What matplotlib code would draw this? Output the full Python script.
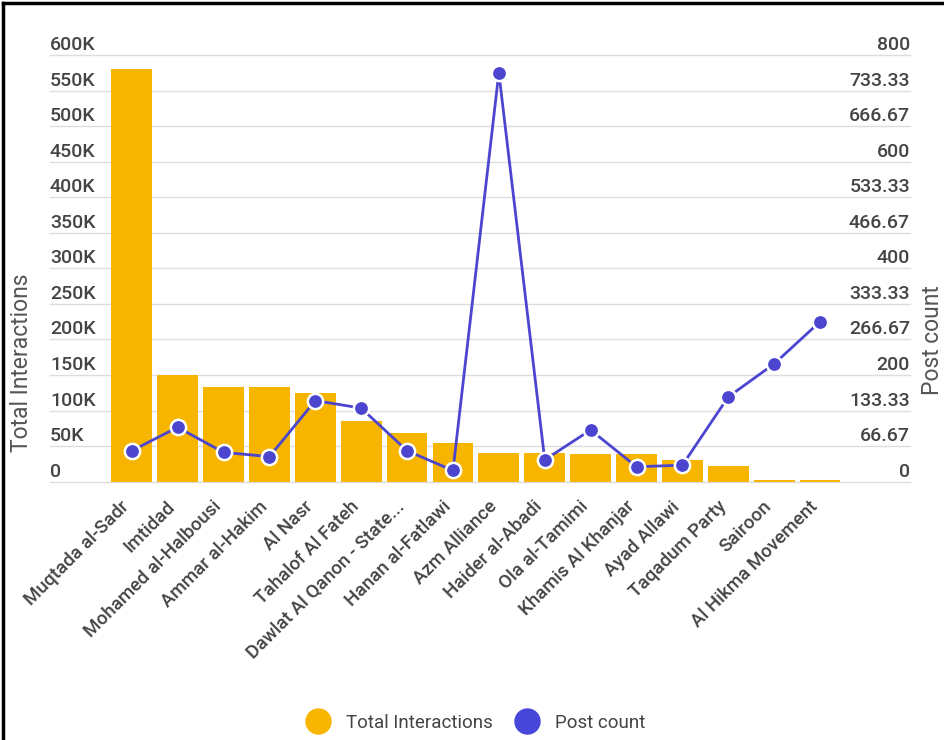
import matplotlib
matplotlib.use("Agg")
import matplotlib.pyplot as plt
import matplotlib.transforms as mtransforms
from matplotlib.lines import Line2D

plt.rcParams['font.family'] = ['Roboto', 'DejaVu Sans']

categories = ["Muqtada al-Sadr", "Imtidad", "Mohamed al-Halbousi", "Ammar al-Hakim",
              "Al Nasr", "Tahalof Al Fateh", "Dawlat Al Qanon - State...",
              "Hanan al-Fatlawi", "Azm Alliance", "Haider al-Abadi", "Ola al-Tamimi",
              "Khamis Al Khanjar", "Ayad Allawi", "Taqadum Party", "Sairoon",
              "Al Hikma Movement"]
interactions = [581000, 150000, 133000, 133000, 125000, 86000, 68000, 54000,
                41000, 41000, 39000, 39000, 31000, 22000, 3000, 2000]
post_count = [58, 102, 55, 47, 152, 138, 58, 21, 767, 41, 97, 28, 31, 159, 221, 300]

left_ticks = [0, 50000, 100000, 150000, 200000, 250000, 300000, 350000, 400000,
              450000, 500000, 550000, 600000]
left_labels = ["0", "50K", "100K", "150K", "200K", "250K", "300K", "350K", "400K",
               "450K", "500K", "550K", "600K"]
right_labels = ["0", "66.67", "133.33", "200", "266.67", "333.33", "400", "466.67",
                "533.33", "600", "666.67", "733.33", "800"]

bar_color = "#F7B500"
line_color = "#4B45CF"
text_color = "#444444"

W, H = 945, 740
fig = plt.figure(figsize=(W / 100, H / 100), dpi=100)

# plot area in pixels
x0, x1 = 108.8, 843.0
y_top, y_bot = 55.0, 481.7
ax = fig.add_axes([x0 / W, 1 - y_bot / H, (x1 - x0) / W, (y_bot - y_top) / H])
ax2 = ax.twinx()

x = list(range(len(categories)))
ax.bar(x, interactions, width=0.89, color=bar_color, zorder=2)
ax.set_xlim(-0.5, len(categories) - 0.5)
ax.set_ylim(0, 600000)
ax2.set_ylim(0, 800)

ax2.plot(x, post_count, color=line_color, lw=2, marker="o", markersize=11,
         markerfacecolor=line_color, markeredgecolor="white", markeredgewidth=1.8,
         zorder=3)

# gridlines extending under the tick labels
gx0 = (50 - x0) / (x1 - x0)
gx1 = (910 - x0) / (x1 - x0)
for v in left_ticks:
    ax.axhline(v, xmin=gx0, xmax=gx1, color="#dddddd", lw=1, clip_on=False, zorder=0)

for a in (ax, ax2):
    for s in a.spines.values():
        s.set_visible(False)
    a.set_yticks([])

ax.set_xticks(x)
ax.set_xticklabels(categories, rotation=45, ha="right", va="center",
                   rotation_mode="anchor", fontsize=13.5, color=text_color,
                   fontweight="medium")
ax.tick_params(axis="x", length=0, pad=16)
shift = mtransforms.ScaledTranslation(-0.05, 0, fig.dpi_scale_trans)
for lab in ax.get_xticklabels():
    lab.set_transform(lab.get_transform() + shift)

# y tick labels sit just above their gridlines
tl = mtransforms.offset_copy(mtransforms.blended_transform_factory(fig.transFigure, ax.transData),
                             fig=fig, x=0, y=10, units="dots")
for v, lab in zip(left_ticks, left_labels):
    ax.text(50 / W, v, lab, transform=tl, ha="left", va="center",
            fontsize=14, color=text_color, fontweight="medium", clip_on=False)
tr = mtransforms.offset_copy(mtransforms.blended_transform_factory(fig.transFigure, ax2.transData),
                             fig=fig, x=0, y=10, units="dots")
for i, lab in enumerate(right_labels):
    ax2.text(910 / W, i * 800 / 12, lab, transform=tr, ha="right", va="center",
             fontsize=14, color=text_color, fontweight="medium", clip_on=False)

fig.text(22 / W, 1 - 363 / H, "Total Interactions", rotation=90, ha="center",
         va="center", fontsize=16.5, color="#555555")
fig.text(933 / W, 1 - 340 / H, "Post count", rotation=90, ha="center",
         va="center", fontsize=16.5, color="#555555")

handles = [Line2D([], [], ls="", marker="o", markersize=18, color=bar_color),
           Line2D([], [], ls="", marker="o", markersize=18, color="#4646D8")]
fig.legend(handles, ["Total Interactions", "Post count"], loc="center",
           bbox_to_anchor=(0.5, 1 - 723 / H), ncol=2, frameon=False,
           fontsize=13.5, handletextpad=0.5, columnspacing=0.8,
           labelcolor=text_color)

# frame of the screenshot (left and top edges)
fig.add_artist(Line2D([3 / W, 3 / W], [0, 1 - 3 / H], color="black", lw=2.5))
fig.add_artist(Line2D([3 / W, 1], [1 - 3 / H, 1 - 3 / H], color="black", lw=2.5))

fig.savefig("out.png", dpi=100)
